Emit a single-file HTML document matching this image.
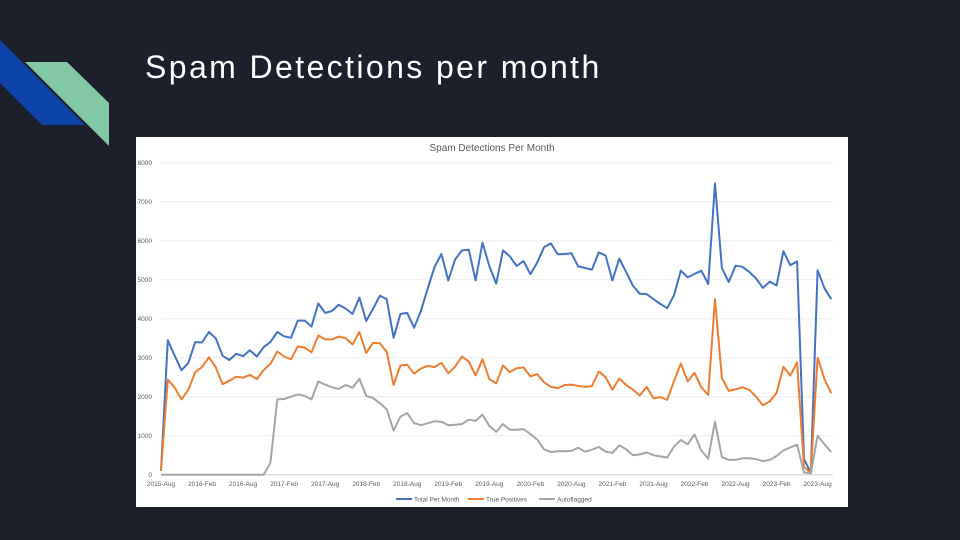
<!DOCTYPE html>
<html><head><meta charset="utf-8"><style>
html,body{margin:0;padding:0;background:#1c202b;width:960px;height:540px;overflow:hidden;font-family:"Liberation Sans",sans-serif}
#t{position:absolute;left:145px;top:49px;color:#fff;font-size:32px;font-weight:300;letter-spacing:2.4px}
svg{position:absolute;left:0;top:0}
</style></head><body>
<svg width="960" height="540">
<polygon points="0,40 85,125 42,125 0,83" fill="#0b43a8"/>
<polygon points="25,62 67,62 109,103 109,146" fill="#83c8a4"/>
</svg>
<div id="t">Spam Detections per month</div>
<svg id="c" width="960" height="540"></svg>
<script>
const startYear=2015,startMonth=7;
const totalPerMonth=[100,3450,3050,2680,2870,3400,3390,3660,3500,3050,2940,3100,3040,3190,3030,3270,3400,3660,3550,3510,3950,3950,3800,4390,4150,4200,4360,4260,4120,4540,3940,4250,4590,4500,3510,4120,4150,3770,4200,4780,5330,5660,4980,5520,5750,5770,4980,5950,5350,4900,5750,5600,5350,5480,5140,5440,5830,5930,5650,5660,5680,5340,5300,5260,5700,5620,4980,5540,5200,4840,4640,4630,4500,4380,4270,4600,5230,5060,5150,5230,4890,7470,5300,4940,5360,5330,5200,5030,4790,4950,4850,5730,5370,5470,400,50,5240,4780,4500];
const truePositives=[100,2440,2230,1930,2180,2630,2760,3010,2760,2320,2410,2510,2490,2560,2450,2680,2840,3160,3030,2960,3290,3260,3140,3570,3470,3470,3540,3500,3340,3660,3120,3380,3370,3150,2300,2800,2820,2590,2720,2790,2760,2870,2600,2770,3030,2900,2550,2960,2450,2340,2800,2630,2730,2750,2520,2580,2370,2250,2220,2300,2310,2280,2250,2270,2650,2500,2180,2470,2300,2180,2030,2250,1960,1990,1920,2400,2850,2390,2610,2240,2040,4500,2480,2150,2190,2240,2180,2000,1780,1880,2100,2770,2540,2880,200,50,3000,2450,2090];
const autoflagged=[0,0,0,0,0,0,0,0,0,0,0,0,0,0,0,0,300,1930,1940,2000,2060,2020,1930,2390,2310,2240,2200,2300,2230,2460,2020,1970,1830,1680,1130,1490,1580,1320,1270,1320,1370,1360,1270,1280,1300,1410,1380,1540,1250,1100,1300,1150,1150,1170,1040,900,650,580,600,600,610,690,590,640,710,590,560,750,650,500,520,570,500,470,440,720,890,780,1030,620,410,1360,450,380,380,420,420,400,350,380,480,620,700,770,60,30,1000,780,580];
const yTicks=[0,1000,2000,3000,4000,5000,6000,7000,8000];
const seriesNames=["Total Per Month","True Positives","Autoflagged"];
const seriesColors=["#4472c4","#ed7d31","#a5a5a5"];
const monthNames=["Jan","Feb","Mar","Apr","May","Jun","Jul","Aug","Sep","Oct","Nov","Dec"];
const NS="http://www.w3.org/2000/svg";
const svg=document.getElementById('c');
const X0=161,DX=6.84,Y0=474.7,YS=39.0/1000;
const x=i=>X0+DX*i, y=v=>Y0-v*YS;
function mk(t,a,p){const e=document.createElementNS(NS,t);for(const k in a)e.setAttribute(k,a[k]);(p||svg).appendChild(e);return e;}
const bg=mk('rect',{x:136,y:137,width:712,height:370,fill:'#fff'});


const ttl=mk('text',{x:492,y:151,'text-anchor':'middle','font-size':'10','fill':'#595959'});
ttl.textContent='Spam Detections Per Month';


yTicks.forEach(v=>{
 const g=mk('line',{x1:161,x2:833,y1:y(v),y2:y(v),stroke:v===0?'#d0d0d0':'#ececec','stroke-width':1});
 
 
 const t=mk('text',{x:152,y:y(v)+2.5,'text-anchor':'end','font-size':'6.5','fill':'#595959'});
 t.textContent=v;
 
 
});
for(let i=0;i<totalPerMonth.length;i+=6){
 const m=(startMonth+i)%12, yr=startYear+Math.floor((startMonth+i)/12);
 const t=mk('text',{x:x(i),y:486,'text-anchor':'middle','font-size':'6.5','fill':'#595959'});
 t.textContent=yr+'-'+monthNames[m];
 
 
}
[totalPerMonth,truePositives,autoflagged].forEach((d,s)=>{
 const p=mk('polyline',{points:d.map((v,i)=>x(i).toFixed(1)+','+y(v).toFixed(1)).join(' '),fill:'none',stroke:seriesColors[s],'stroke-width':2,'stroke-linejoin':'round'});
 
 
});
const lx=[396,468,539];
seriesNames.forEach((n,s)=>{
 const l=mk('line',{x1:lx[s],x2:lx[s]+16,y1:499,y2:499,stroke:seriesColors[s],'stroke-width':2});
 
 
 const t=mk('text',{x:lx[s]+18,y:501.5,'font-size':'6.5','fill':'#595959'});
 t.textContent=n;
 
 
});
</script>
</body></html>
